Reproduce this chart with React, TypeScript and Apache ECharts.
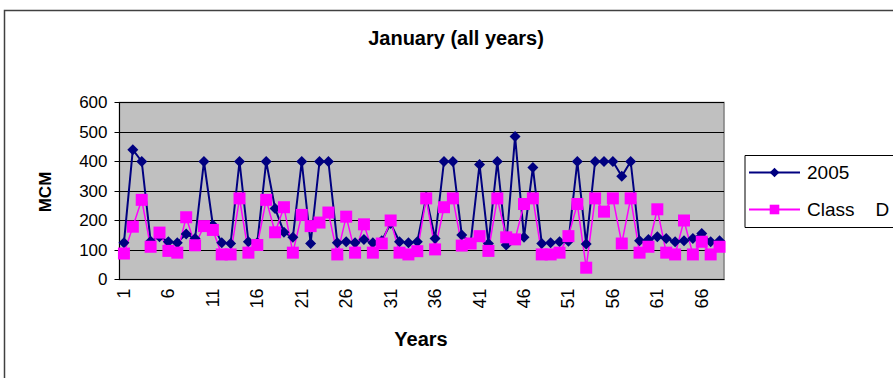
import React, { useEffect, useRef } from "react";
import * as echarts from "echarts";

const years: string[] = Array.from({ length: 68 }, (_, i) => String(i + 1));

const series2005: number[] = [
  125, 440, 400, 130, 145, 128, 125, 154, 139, 400,
  185, 125, 122, 400, 128, 125, 400, 241, 160, 143,
  400, 122, 400, 400, 125, 128, 125, 136, 125, 131,
  190, 128, 125, 128, 280, 139, 400, 400, 151, 125,
  390, 122, 400, 117, 485, 143, 380, 122, 125, 128,
  130, 400, 120, 400, 400, 400, 350, 400, 131, 136,
  145, 139, 128, 131, 139, 156, 128, 131,
];

const seriesClassD: number[] = [
  88, 179, 270, 111, 159, 97, 91, 211, 116, 181,
  168, 85, 85, 275, 91, 117, 270, 160, 245, 91,
  219, 181, 193, 227, 85, 213, 91, 187, 91, 122,
  200, 91, 85, 96, 275, 102, 245, 275, 115, 122,
  147, 97, 275, 143, 136, 256, 275, 85, 85, 91,
  147, 256, 40, 275, 230, 275, 122, 275, 91, 111,
  238, 91, 85, 200, 85, 128, 85, 111,
];

const yTicks = { min: 0, max: 600, interval: 100 };

const FONT = "'Liberation Sans', Arial, sans-serif";

export default function App() {
  const ref = useRef<HTMLDivElement>(null);
  useEffect(() => {
    document.body.style.margin = "0";
    const chart = echarts.init(ref.current!, undefined, { renderer: "svg" });
    chart.setOption({
      animation: false,
      backgroundColor: "#ffffff",
      textStyle: { fontFamily: FONT },
      graphic: [
        {
          type: "rect",
          shape: { x: 4.5, y: 10.5, width: 1000, height: 500 },
          style: { fill: "none", stroke: "#404040", lineWidth: 1.5 },
          silent: true,
          z: -10,
        },
        {
          type: "text",
          x: 456,
          y: 38,
          style: {
            text: "January (all years)",
            fontSize: 20,
            fontWeight: "bold",
            fontFamily: FONT,
            fill: "#000",
            align: "center",
            verticalAlign: "middle",
          },
        },
        {
          type: "text",
          x: 45,
          y: 192,
          rotation: Math.PI / 2,
          style: {
            text: "MCM",
            fontSize: 17,
            fontWeight: "bold",
            fontFamily: FONT,
            fill: "#000",
            align: "center",
            verticalAlign: "middle",
          },
        },
        {
          type: "text",
          x: 421,
          y: 339,
          style: {
            text: "Years",
            fontSize: 20,
            fontWeight: "bold",
            fontFamily: FONT,
            fill: "#000",
            align: "center",
            verticalAlign: "middle",
          },
        },
        {
          type: "rect",
          shape: { x: 745, y: 155.5, width: 200, height: 72 },
          style: { fill: "#ffffff", stroke: "#000", lineWidth: 1 },
          z: 0,
        },
      ],
      legend: {
        orient: "vertical",
        left: 743,
        top: 158,
        itemWidth: 51,
        itemHeight: 12,
        itemGap: 18,
        z: 10,
        textStyle: { fontSize: 19, color: "#000", fontFamily: FONT, padding: [0, 0, 0, 2] },
        data: ["2005", "Class    D"],
      },
      grid: {
        left: 119.5,
        top: 102.5,
        width: 604.5,
        height: 177,
        show: true,
        backgroundColor: "#C0C0C0",
        borderColor: "#808080",
        borderWidth: 1.5,
      },
      xAxis: {
        type: "category",
        data: years,
        boundaryGap: true,
        axisLine: { lineStyle: { color: "#000", width: 1 } },
        axisTick: { interval: 0, length: 5, lineStyle: { color: "#000" } },
        axisLabel: {
          interval: 4,
          rotate: 90,
          fontSize: 18,
          color: "#000",
          margin: 9,
          fontFamily: FONT,
        },
      },
      yAxis: {
        type: "value",
        min: yTicks.min,
        max: yTicks.max,
        interval: yTicks.interval,
        axisLine: { show: true, lineStyle: { color: "#000", width: 1 } },
        axisTick: { show: true, length: 5, lineStyle: { color: "#000" } },
        splitLine: { show: true, lineStyle: { color: "#000", width: 1 } },
        axisLabel: { fontSize: 17, color: "#000", margin: 12, fontFamily: FONT },
      },
      series: [
        {
          name: "2005",
          type: "line",
          data: series2005,
          showAllSymbol: true,
          symbol: "diamond",
          symbolSize: 11,
          itemStyle: { color: "#000080" },
          lineStyle: { color: "#000080", width: 2 },
        },
        {
          name: "Class    D",
          type: "line",
          data: seriesClassD,
          showAllSymbol: true,
          symbol: "rect",
          symbolSize: 12,
          itemStyle: { color: "#FF00FF" },
          lineStyle: { color: "#FF00FF", width: 1.5 },
        },
      ],
    });
    return () => chart.dispose();
  }, []);
  return <div ref={ref} style={{ width: 893, height: 378 }} />;
}
